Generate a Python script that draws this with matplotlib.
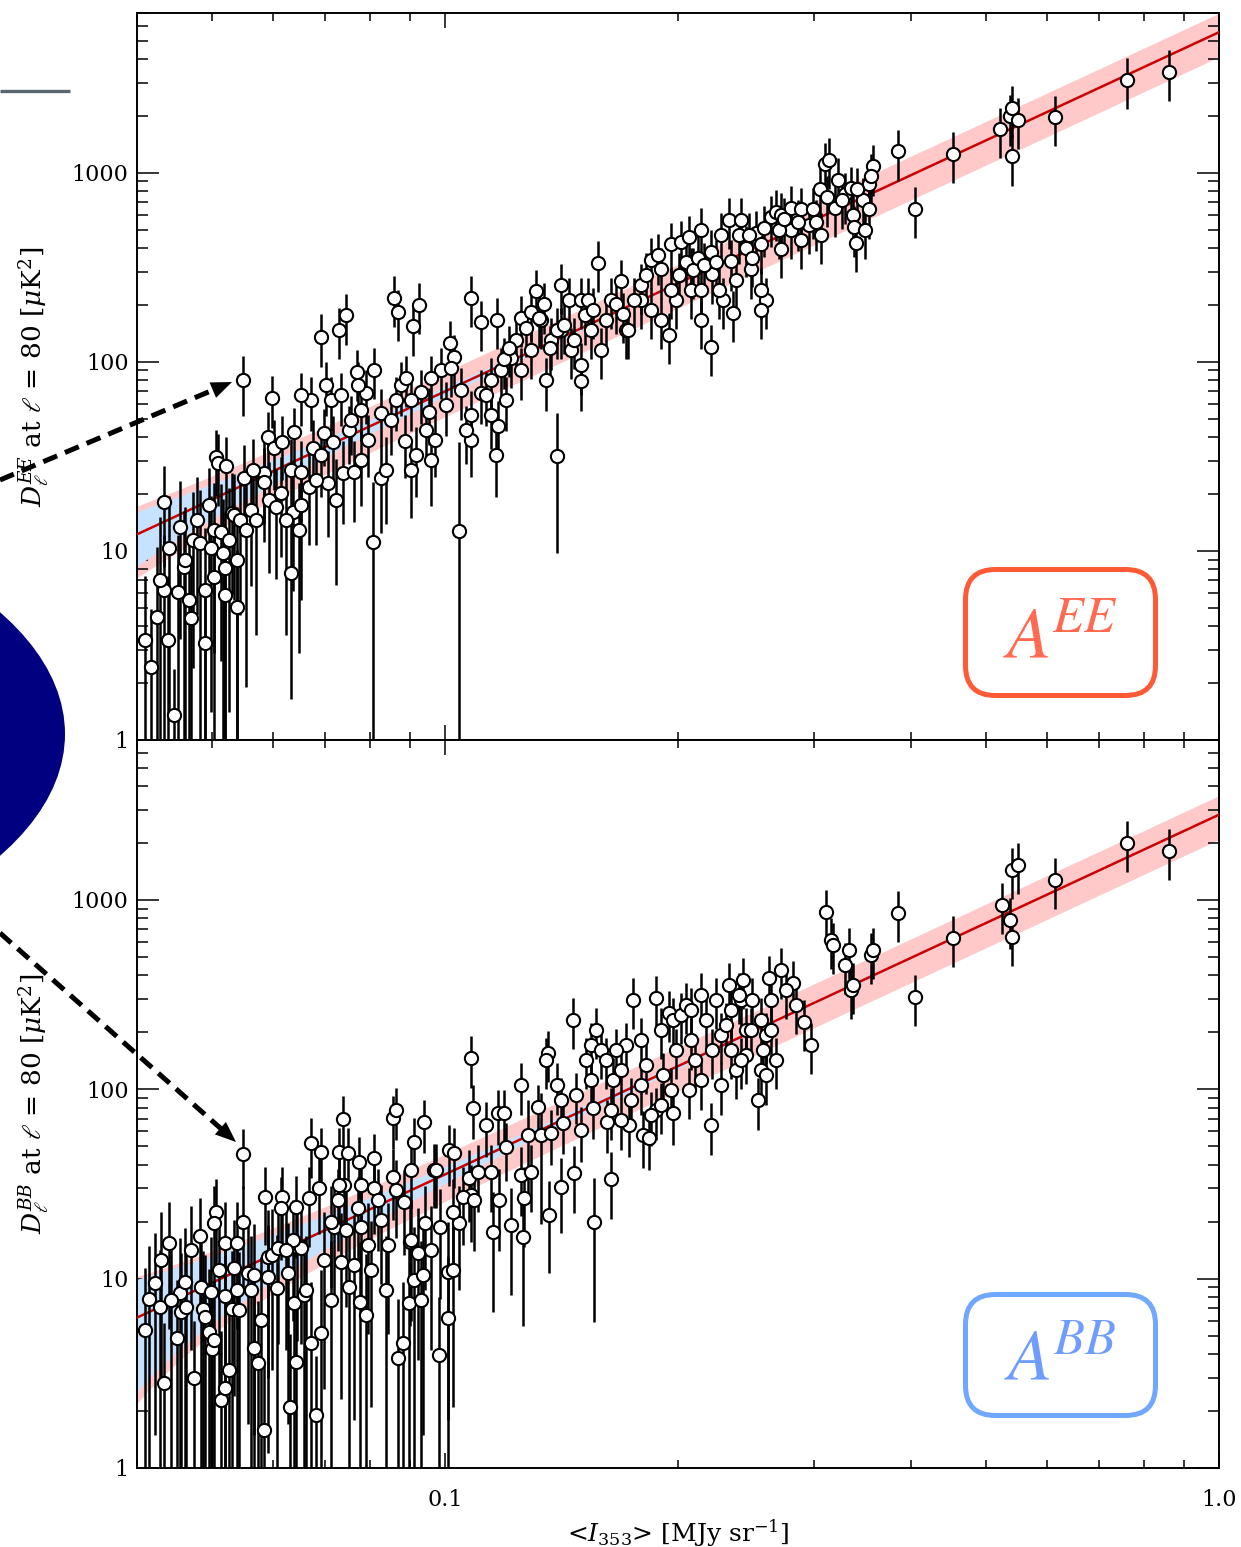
import numpy as np
import matplotlib
matplotlib.use("Agg")
import matplotlib.pyplot as plt
from matplotlib.patches import Ellipse, FancyBboxPatch
from matplotlib.ticker import (FixedLocator, FixedFormatter, LogLocator,
                               NullFormatter, FuncFormatter)

plt.rcParams["font.family"] = ["DejaVu Serif"]
plt.rcParams["mathtext.fontset"] = "dejavuserif"

# ---- EE panel: <I353> [MJy/sr], D_l at l=80 [uK^2], 1-sigma error
ee_int = [
    0.0417, 0.0424, 0.0433, 0.0433, 0.0440, 0.0446, 0.0454, 0.0452, 0.0460, 0.0462,
    0.0469, 0.0473, 0.0483, 0.0490, 0.0495, 0.0499, 0.0503, 0.0503, 0.0506, 0.0509,
    0.0514, 0.0517, 0.0520, 0.0522, 0.0530, 0.0538, 0.0538, 0.0549, 0.0598, 0.0633,
    0.0639, 0.0591, 0.0584, 0.0519, 0.0533, 0.0550, 0.0562, 0.0565, 0.0583, 0.0602,
    0.0593, 0.0615, 0.0613, 0.0605, 0.0633, 0.0652, 0.0668, 0.0637, 0.0648, 0.0676,
    0.0698, 0.0717, 0.0739, 0.0763, 0.0752, 0.0796, 0.0808, 0.0706, 0.0692, 0.0730,
    0.0745, 0.0860, 0.0870, 0.0926, 0.0909, 0.1080, 0.1015, 0.1027, 0.1113, 0.1167,
    0.0791, 0.0770, 0.0772, 0.0810, 0.0827, 0.0877, 0.0891, 0.0988, 0.1018, 0.1042,
    0.0954, 0.0971, 0.1080, 0.0888, 0.0827, 0.0904, 0.0852, 0.0865, 0.0779, 0.0713,
    0.0672, 0.0652, 0.0702, 0.0734, 0.0757, 0.0692, 0.0931, 0.0959, 0.0945, 0.1003,
    0.1049, 0.0904, 0.1113, 0.1147, 0.1181, 0.1235, 0.1253, 0.1272, 0.1310, 0.1342,
    0.1395, 0.1411, 0.1445, 0.1498, 0.1516, 0.1575, 0.1637, 0.1686, 0.1590, 0.1498,
    0.1498, 0.1350, 0.1291, 0.1171, 0.1164, 0.1130, 0.1217, 0.1370, 0.1411, 0.1330,
    0.1454, 0.1543, 0.1614, 0.1253, 0.1199, 0.1080, 0.1147, 0.1790, 0.1844, 0.1883,
    0.1900, 0.1957, 0.2016, 0.2064, 0.2139, 0.2203, 0.2203, 0.2139, 0.2270, 0.2325,
    0.2353, 0.2410, 0.2446, 0.2519, 0.2557, 0.2634, 0.2673, 0.2374, 0.2482, 0.2077,
    0.1790, 0.1900, 0.1987, 0.2595, 0.2557, 0.2713, 0.2796, 0.2880, 0.2949, 0.3011,
    0.3047, 0.3093, 0.3130, 0.3195, 0.3291, 0.3341, 0.3361, 0.3371, 0.3391, 0.3463,
    0.3525, 0.3567, 0.3525, 0.3853, 0.4042, 0.4538, 0.5216, 0.5374, 0.5406, 0.5406,
    0.5503, 0.6142, 0.7606, 0.8620, 0.1712, 0.1844, 0.1945, 0.2077, 0.2216, 0.2339,
    0.2139, 0.2283, 0.2557, 0.2713, 0.2796, 0.2880,
    0.1192, 0.1208, 0.1291, 0.1322, 0.1366, 0.1395, 0.1424, 0.1467, 0.1530, 0.1552,
    0.1661, 0.1697, 0.1722, 0.1753, 0.1817, 0.1957, 0.2004, 0.2046, 0.2089, 0.2121,
    0.2161, 0.2236, 0.2256, 0.2396, 0.2467, 0.2496, 0.2580, 0.2697, 0.2738, 0.2855,
    0.2987, 0.3058, 0.3113, 0.3255, 0.3406, 0.3485, 0.3546, 0.3219,
    0.0410, 0.0428, 0.0438, 0.0467, 0.0478, 0.0489, 0.0526, 0.0543, 0.0554, 0.0570,
    0.0623, 0.0652, 0.0682, 0.0724, 0.0779, 0.0839, 0.0918, 0.0959, 0.1065,
]
ee_dl = [
    2.43, 4.48, 18.2, 6.2, 10.4, 1.36, 13.4, 6.07, 8.25, 8.97,
    4.42, 11.4, 11.0, 3.26, 17.5, 10.4, 12.9, 7.3, 31.4, 29.3,
    12.6, 9.7, 8.15, 28.0, 15.9, 8.97, 5.06, 80, 64.6, 7.65,
    42.7, 40.0, 25.9, 5.85, 15.5, 24.4, 16.5, 26.9, 23.2, 35.1,
    18.6, 37.8, 20.3, 17.1, 26.9, 26.2, 21.8, 16.1, 12.9, 35.1,
    42.1, 37.8, 25.9, 26.2, 43.7, 38.6, 11.2, 22.9, 136, 148,
    176, 218, 184, 200, 154, 218, 126, 106, 162, 167,
    68.8, 88.8, 75.7, 90.8, 53.7, 75.7, 82.5, 90.8, 93, 12.8,
    54.4, 38.6, 52.4, 38.2, 24.4, 26.9, 49.3, 62.9, 55.7, 62.9,
    62.9, 66.5, 75.7, 66.5, 49.3, 32.3, 69, 82.5, 43.7, 59.3,
    71, 62.9, 68.8, 80.2, 90.8, 131, 171, 151, 236, 201,
    31.8, 255, 213, 213, 176, 335, 213, 266, 116, 79,
    96, 80.2, 116, 45.8, 32.2, 67, 105, 131, 148, 167,
    116, 148, 167, 91, 63, 38.6, 52.4, 255, 347, 366,
    308, 418, 430, 457, 500, 382, 120, 167, 470, 564,
    182, 564, 401, 480, 418, 580, 620, 272, 308, 241,
    213, 167, 213, 213, 189, 600, 655, 640, 530, 550,
    820, 1110, 1170, 655, 770, 830, 600, 515, 425, 720,
    870, 1080, 640, 1300, 645, 1260, 1700, 1990, 2210, 1220,
    1910, 1970, 3100, 3430, 148, 189, 139, 308, 290, 340,
    241, 213, 241, 395, 500, 442,
    103, 119, 184, 171, 119, 148, 157, 131, 213, 189,
    201, 178, 148, 213, 289, 241, 289, 339, 307, 356,
    327, 339, 241, 471, 471, 356, 513, 501, 566, 552,
    640, 471, 740, 722, 816, 501, 967, 921,
    3.38, 7.03, 3.38, 5.51, 14.6, 6.2, 11.4, 14.6, 12.9, 14.6,
    14.6, 17.5, 23.7, 18.6, 30.3, 26.9, 32.2, 30.3, 43.7,
]
ee_err = [
    2.5, 6, 10, 6, 9, 1, 10, 6, 8, 8,
    5, 9, 10, 3, 10, 9, 10, 7, 12, 12,
    10, 9, 8, 12, 10, 8, 5, 28, 20, 6,
    14, 14, 12, 6, 10, 12, 10, 12, 12, 14,
    11, 14, 11, 10, 12, 12, 11, 10, 10, 14,
    14, 14, 12, 12, 15, 14, 12, 11, 42, 45,
    53, 65, 55, 60, 46, 65, 38, 32, 48, 50,
    22, 27, 24, 27, 18, 24, 25, 27, 28, 25,
    18, 14, 18, 14, 12, 12, 17, 20, 18, 20,
    20, 21, 24, 21, 17, 13, 22, 25, 15, 19,
    22, 20, 22, 25, 27, 40, 51, 45, 70, 60,
    22, 76, 64, 64, 53, 100, 64, 80, 35, 24,
    29, 25, 35, 16, 13, 21, 32, 40, 45, 50,
    35, 45, 50, 28, 20, 14, 18, 76, 104, 110,
    92, 125, 129, 137, 150, 115, 36, 50, 141, 169,
    55, 169, 120, 144, 125, 174, 186, 82, 92, 72,
    64, 50, 64, 64, 57, 180, 197, 192, 159, 165,
    246, 333, 351, 197, 231, 249, 180, 155, 128, 216,
    261, 324, 192, 390, 194, 378, 510, 597, 663, 366,
    573, 591, 930, 1030, 44, 57, 42, 92, 87, 102,
    72, 64, 72, 119, 150, 133,
    31, 36, 55, 51, 36, 44, 47, 39, 64, 57,
    60, 53, 44, 64, 87, 72, 87, 102, 92, 107,
    98, 102, 72, 141, 141, 107, 154, 150, 170, 166,
    192, 141, 222, 217, 245, 150, 290, 276,
    4, 8, 4, 6, 10, 7, 10, 10, 11, 11,
    11, 12, 13, 12, 13, 13, 13, 13, 15,
]

# ---- BB panel
bb_int = [
    0.0415, 0.0422, 0.0428, 0.0434, 0.0440, 0.0450, 0.0455, 0.0456, 0.0462, 0.0463,
    0.0474, 0.0483, 0.0484, 0.0487, 0.0490, 0.0495, 0.0498, 0.0500, 0.0503, 0.0506,
    0.0503, 0.0514, 0.0519, 0.0520, 0.0520, 0.0530, 0.0526, 0.0534, 0.0542, 0.0549,
    0.0549, 0.0557, 0.0562, 0.0567, 0.0574, 0.0586, 0.0584, 0.0591, 0.0597, 0.0607,
    0.0615, 0.0613, 0.0627, 0.0631, 0.0639, 0.0641, 0.0642, 0.0644, 0.0652, 0.0668,
    0.0672, 0.0672, 0.0682, 0.0692, 0.0692, 0.0688, 0.0698, 0.0719, 0.0728, 0.0730,
    0.0734, 0.0739, 0.0741, 0.0750, 0.0763, 0.0772, 0.0775, 0.0779, 0.0777, 0.0791,
    0.0796, 0.0810, 0.0810, 0.0820, 0.0827, 0.0845, 0.0857, 0.0857, 0.0865, 0.0870,
    0.0865, 0.0883, 0.0885, 0.0899, 0.0901, 0.0904, 0.0912, 0.0923, 0.0912, 0.0937,
    0.0940, 0.0942, 0.0968, 0.0985, 0.0982, 0.1009, 0.1009, 0.1012, 0.0730, 0.1042,
    0.1153, 0.1217, 0.1260, 0.1174, 0.1080, 0.1024, 0.0609, 0.0637, 0.0538, 0.0567,
    0.0591, 0.0658, 0.0713, 0.0779, 0.0904, 0.0752, 0.0974, 0.1024, 0.1027, 0.1055,
    0.1074, 0.1087, 0.1090, 0.1103, 0.1130, 0.1147, 0.1171, 0.1192, 0.1199, 0.1253,
    0.1264, 0.1280, 0.1291, 0.1318, 0.1330, 0.1362, 0.1370, 0.1411, 0.1420, 0.1467,
    0.1498, 0.1552, 0.1557, 0.1618, 0.1637, 0.1727, 0.1801, 0.1833, 0.1872, 0.1969,
    0.1463, 0.1358, 0.1395, 0.1350, 0.1543, 0.1590, 0.1614, 0.1647, 0.1686, 0.1712,
    0.1790, 0.1872, 0.1900, 0.1945, 0.1969, 0.2016, 0.2046, 0.2077, 0.2139, 0.2171,
    0.2203, 0.2236, 0.2270, 0.2325, 0.2339, 0.2374, 0.2410, 0.2424, 0.2446, 0.2557,
    0.2572, 0.2595, 0.2618, 0.2634, 0.2713, 0.2812, 0.2906, 0.2967, 0.3102, 0.3148,
    0.3176, 0.3291, 0.3331, 0.3341, 0.3361, 0.3546, 0.3567, 0.3853, 0.4042, 0.4538,
    0.5248, 0.5374, 0.5406, 0.5406, 0.5503, 0.6142, 0.7606, 0.8620, 0.1543, 0.1686,
    0.1738, 0.1790, 0.1844, 0.2139, 0.1957, 0.2339, 0.2482, 0.2446, 0.2557, 0.1080, 0.1253,
    0.1520, 0.1567, 0.1661, 0.1748, 0.1817, 0.1911, 0.1987, 0.2077, 0.2105, 0.2216,
    0.2304, 0.2396, 0.2496, 0.2634, 0.2673, 0.2754, 0.2838, 0.1411, 0.1476, 0.1637,
    0.1900, 0.2064, 0.2270, 0.2410, 0.2595, 0.2534,
    0.0410, 0.0430, 0.0443, 0.0470, 0.0511, 0.0538, 0.0579, 0.0624, 0.0662, 0.0713,
    0.0745, 0.0803, 0.0839, 0.0931, 0.0959,
]
bb_dl = [
    7.81, 9.49, 7.09, 2.81, 15.4, 4.86, 8.40, 6.67, 9.61, 7.09,
    2.99, 16.8, 9.04, 6.92, 6.28, 5.23, 8.50, 4.25, 4.74, 22.5,
    19.7, 2.29, 2.65, 15.4, 8.11, 6.92, 3.29, 11.4, 6.84, 45.6,
    19.9, 10.7, 8.71, 4.30, 3.59, 27.0, 1.59, 13.0, 13.3, 8.93,
    27.0, 23.6, 10.7, 2.10, 7.44, 3.63, 23.9, 14.7, 14.5, 26.7,
    52.1, 4.57, 1.91, 46.7, 5.17, 30.1, 12.6, 18.8, 26.0, 46.7,
    12.3, 69.8, 31.3, 46.1, 11.8, 23.6, 41.3, 31.3, 7.53, 6.43,
    15.1, 43.4, 30.1, 26.0, 20.4, 15.1, 34.5, 70.6, 77.8, 3.81,
    29.4, 4.57, 25.4, 7.44, 15.6, 37.5, 52.7, 13.7, 9.84, 10.5,
    67.3, 19.7, 37.5, 18.8, 3.95, 6.20, 10.8, 47.8, 31.3, 19.7,
    17.7, 19.2, 16.6, 26.0, 27.7, 11.1, 14.5, 16.0, 15.4, 10.5,
    10.2, 8.2, 19.9, 18.8, 16.0, 9.0, 37.5, 22.5, 46.1, 27.0,
    34.0, 79.8, 26.0, 36.6, 64.9, 36.6, 75.0, 75.0, 49.6, 35.3,
    26.7, 57.4, 36.6, 80.7, 57.4, 21.7, 58.9, 30.5, 66.5, 36.2,
    61.1, 79.8, 19.9, 67.3, 33.6, 64.9, 57.4, 55.4, 77.8, 75.0,
    233, 156, 105, 143, 172, 161, 143, 112, 127, 172,
    182, 304, 206, 253, 233, 247, 279, 182, 315, 233,
    64.9, 297, 194, 356, 263, 127, 297, 378, 206, 233,
    161, 194, 388, 297, 428, 365, 227, 172, 865, 615,
    580, 454, 545, 335, 356, 513, 545, 855, 308, 631,
    942, 785, 638, 1440, 1530, 1280, 2000, 1820, 112, 68.9,
    87.9, 105, 73.3, 112, 99.3, 161, 206, 152, 127, 146, 105,
    143, 206, 161, 297, 134, 119, 161, 263, 143, 161,
    219, 315, 297, 206, 143, 335, 279, 87.9, 93.4, 77.8,
    82.7, 99.3, 105, 143, 119, 87.9,
    5.36, 12.6, 7.72, 14.2, 11.1, 8.71, 6.05, 14.2, 8.71, 7.72,
    18.1, 11.1, 8.71, 7.72, 14.2,
]
bb_err = [
    7, 8, 7, 3, 10, 5, 8, 7, 9, 7,
    3, 10, 9, 7, 7, 6, 8, 5, 5, 11,
    11, 3, 3, 10, 8, 7, 4, 9, 7, 16,
    11, 9, 8, 5, 4, 12, 2, 10, 10, 8,
    12, 11, 9, 3, 7, 4, 11, 10, 10, 12,
    18, 5, 2, 16, 6, 13, 10, 11, 12, 16,
    10, 22, 13, 16, 10, 11, 15, 13, 8, 7,
    10, 15, 13, 12, 11, 10, 14, 22, 24, 4,
    13, 5, 12, 8, 10, 14, 18, 10, 9, 9,
    21, 11, 14, 11, 4, 7, 9, 17, 13, 11,
    11, 11, 11, 12, 12, 9, 10, 10, 10, 9,
    9, 8, 11, 11, 10, 8, 14, 11, 16, 12,
    14, 25, 12, 14, 21, 14, 24, 24, 17, 14,
    12, 30, 14, 25, 38, 11, 19, 13, 21, 14,
    20, 25, 14, 21, 13, 21, 19, 18, 24, 24,
    70, 47, 32, 43, 52, 48, 43, 34, 38, 52,
    55, 91, 62, 76, 70, 74, 84, 55, 95, 70,
    20, 89, 58, 107, 79, 38, 89, 113, 62, 70,
    48, 58, 116, 89, 128, 110, 68, 52, 260, 185,
    174, 136, 164, 100, 107, 154, 164, 257, 92, 190,
    283, 236, 191, 430, 460, 385, 600, 546, 34, 21,
    27, 32, 23, 34, 30, 48, 62, 46, 38, 44, 32,
    43, 62, 48, 89, 40, 36, 48, 79, 43, 48,
    66, 95, 89, 62, 43, 100, 84, 27, 28, 24,
    25, 30, 32, 43, 36, 27,
    6, 10, 8, 10, 9, 8, 7, 10, 8, 8,
    11, 9, 8, 8, 10,
]

# power-law fits
ee_amp = 5540.0
bb_amp = 2820.0
fit_slope = 1.9
band_frac = 0.26
ee_noise = 3.9
bb_noise = 3.7

x_lim = (0.04, 1.0)
y_lim = (1.0, 7000.0)


def draw_panel(ax, ints, dls, errs, amp, noise):
    ax.set_xscale("log")
    ax.set_yscale("log")
    grid = np.logspace(np.log10(x_lim[0]), np.log10(x_lim[1]), 300)
    model = amp * grid ** fit_slope
    wide = np.sqrt((band_frac * model) ** 2 + noise ** 2)
    ax.fill_between(grid, np.clip(model - wide, 1e-3, None), model + wide,
                    color="#ffc9c9", lw=0, zorder=1)
    ax.fill_between(grid, np.clip(model - noise, 1e-3, None), model + noise,
                    color="#c6e2ff", lw=0, zorder=2)
    ax.plot(grid, model, color="#cc0000", lw=1.8, zorder=3)

    x = np.array(ints)
    y = np.array(dls)
    e = np.array(errs)
    ax.vlines(x, np.clip(y - e, 0.3, None), y + e, color="k", lw=1.8, zorder=4)
    ax.plot(x, y, "o", ms=9.5, mfc="white", mec="k", mew=1.5, zorder=5)

    ax.set_xlim(x_lim)
    ax.set_ylim(y_lim)
    ax.xaxis.set_major_locator(FixedLocator([0.1, 1.0]))
    ax.xaxis.set_major_formatter(FixedFormatter(["0.1", "1.0"]))
    ax.xaxis.set_minor_locator(LogLocator(base=10, subs=np.arange(2, 10), numticks=20))
    ax.xaxis.set_minor_formatter(NullFormatter())
    ax.yaxis.set_major_locator(FixedLocator([1, 10, 100, 1000]))
    ax.yaxis.set_major_formatter(FuncFormatter(lambda v, p: "%d" % v))
    ax.yaxis.set_minor_locator(LogLocator(base=10, subs=np.arange(2, 10), numticks=20))
    ax.yaxis.set_minor_formatter(NullFormatter())
    ax.tick_params(which="both", direction="in", top=True, right=True, width=1.1)
    ax.tick_params(axis="y", which="major", length=16, labelsize=16, pad=6)
    ax.tick_params(axis="y", which="minor", length=8)
    ax.tick_params(axis="x", which="major", length=11, labelsize=16, pad=15)
    ax.tick_params(axis="x", which="minor", length=6)
    for s in ax.spines.values():
        s.set_linewidth(1.4)


fig = plt.figure(figsize=(12.41, 15.47), dpi=100)
ax_ee = fig.add_axes([0.1104, 0.5217, 0.8719, 0.4699])
ax_bb = fig.add_axes([0.1104, 0.0511, 0.8719, 0.4706])

draw_panel(ax_ee, ee_int, ee_dl, ee_err, ee_amp, ee_noise)
draw_panel(ax_bb, bb_int, bb_dl, bb_err, bb_amp, bb_noise)
ax_ee.tick_params(labelbottom=False)

ax_ee.set_ylabel(r"$D_\ell^{EE}$ at $\ell$ = 80 [$\mu$K$^2$]", fontsize=19)
ax_ee.yaxis.set_label_coords(-0.079, 0.5)
ax_bb.set_ylabel(r"$D_\ell^{BB}$ at $\ell$ = 80 [$\mu$K$^2$]", fontsize=19)
ax_bb.yaxis.set_label_coords(-0.079, 0.5)
ax_bb.set_xlabel(r"<$I_{353}$> [MJy sr$^{-1}$]", fontsize=18, labelpad=5)

# overlay in pixel coordinates for the decorations outside the axes
ov = fig.add_axes([0, 0, 1, 1], zorder=10)
ov.set_xlim(0, 1241)
ov.set_ylim(1547, 0)
ov.axis("off")
ov.patch.set_alpha(0)

ov.add_patch(Ellipse((-435, 734), 1000, 494, color="#000080", lw=0))
ov.plot([0, 70], [91, 91], color="#5b666e", lw=2.4, solid_capstyle="butt")

arrows = [((0, 480), (232, 382)), ((0, 933), (236, 1142))]
for (x0, y0), (x1, y1) in arrows:
    v = np.array([x1 - x0, y1 - y0], dtype=float)
    u = v / np.hypot(*v)
    end = np.array([x1, y1]) - 14 * u
    ov.plot([x0, end[0]], [y0, end[1]], color="k", lw=3.6,
            dashes=(3.0, 1.7), dash_capstyle="butt")
    ov.annotate("", xy=(x1, y1), xytext=(end[0] - 8 * u[0], end[1] - 8 * u[1]),
                arrowprops=dict(arrowstyle="-|>,head_length=1.5,head_width=0.6",
                                mutation_scale=10, color="k", lw=0,
                                shrinkA=0, shrinkB=0))

# rounded label boxes
boxes = [((965.5, 569.5, 190, 126), "#ff5a36", "#ff6a50", r"$A^{\!EE}$", 658),
         ((965.5, 1294.5, 190, 121), "#70a8ff", "#6e9cff", r"$A^{\!BB}$", 1380)]
rad = 30
for (bx, by, bw, bh), ec, tc, label, base in boxes:
    ov.add_patch(FancyBboxPatch((bx + rad, by + rad), bw - 2 * rad, bh - 2 * rad,
                                boxstyle="round,pad=%d" % rad, fc="white",
                                ec=ec, lw=3.6))
    ov.text(bx + bw / 2, base, label, color=tc, fontsize=52, ha="center",
            va="baseline", math_fontfamily="stix")

fig.savefig("out.png", dpi=100)
